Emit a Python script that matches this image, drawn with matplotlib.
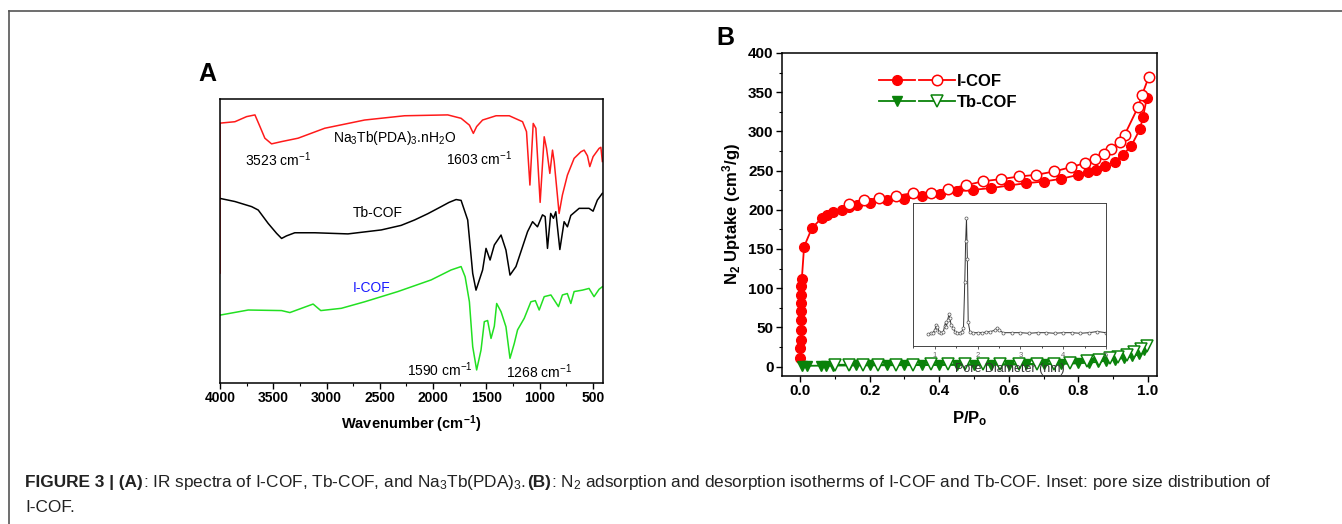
import matplotlib
matplotlib.use('Agg')
import matplotlib.pyplot as plt
from matplotlib.lines import Line2D
from matplotlib.legend_handler import HandlerTuple
from matplotlib.ticker import MultipleLocator

plt.rcParams['font.family'] = ['Liberation Sans', 'DejaVu Sans']
plt.rcParams['mathtext.default'] = 'regular'

# ---- panel A: IR spectra (wavenumber, relative transmittance) ----
red_wn = [4000, 4000, 3860, 3750, 3672, 3625, 3579, 3516, 3422, 3267, 3017, 2642, 2268, 1862, 1737, 1659,
          1622, 1591, 1535, 1409, 1285, 1160, 1123, 1091, 1060, 1035, 995, 957, 935, 904, 879, 863, 817,
          786, 739, 676, 613, 582, 551, 529, 498, 442, 425, 411]
red_t = [38.7, 91.5, 92.0, 93.8, 94.4, 90.3, 86.2, 84.2, 85.0, 86.2, 89.7, 92.6, 94.1, 94.4, 93.2, 90.8,
         87.9, 90.3, 92.6, 94.1, 94.1, 92.0, 88.5, 69.7, 91.4, 89.7, 63.6, 86.7, 82.6, 73.8, 82.0, 77.9, 59.7,
         66.2, 73.2, 79.1, 81.4, 82.0, 80.0, 76.2, 79.7, 82.6, 83.0, 78.0]

black_wn = [4000, 3860, 3703, 3641, 3548, 3469, 3422, 3376, 3298, 3110, 2799, 2486, 2300, 2174, 2050, 1924,
            1850, 1784, 1737, 1675, 1628, 1597, 1535, 1503, 1465, 1425, 1362, 1316, 1278, 1222, 1160, 1113,
            1066, 1020, 973, 948, 926, 896, 870, 848, 810, 770, 739, 707, 629, 536, 498, 458, 411]
black_t = [65.0, 63.9, 62.1, 60.9, 56.2, 52.7, 50.9, 51.8, 52.9, 52.9, 52.5, 53.9, 55.5, 57.4, 59.6, 62.1,
           63.6, 64.6, 64.3, 57.4, 38.6, 32.7, 39.8, 47.4, 43.3, 48.6, 52.1, 46.8, 38.0, 41.0, 48.0, 53.3,
           56.8, 55.0, 59.2, 58.6, 47.4, 59.7, 58.0, 60.3, 47.0, 56.8, 55.0, 59.0, 61.5, 61.5, 60.5, 64.4, 66.8]

green_wn = [4000, 3735, 3422, 3344, 3235, 3126, 3054, 2861, 2642, 2330, 2018, 1831, 1737, 1699, 1659, 1628,
            1591, 1550, 1519, 1488, 1456, 1425, 1403, 1362, 1316, 1278, 1238, 1207, 1144, 1082, 1040, 1004,
            957, 894, 823, 786, 740, 707, 676, 598, 536, 489, 442, 411]
green_t = [23.9, 25.7, 25.5, 24.8, 26.3, 27.8, 25.5, 26.3, 28.6, 32.2, 36.3, 39.8, 41.0, 37.4, 28.6, 12.8,
           4.6, 11.6, 21.6, 22.0, 15.7, 20.0, 28.0, 25.1, 19.8, 8.7, 13.9, 18.7, 22.8, 28.6, 29.0, 25.7,
           30.4, 31.0, 26.9, 31.0, 31.5, 28.0, 32.2, 32.7, 33.3, 30.4, 33.0, 33.9]

# ---- panel B: N2 isotherms ----
icof_ads_p = [0.001, 0.001, 0.002, 0.002, 0.002, 0.003, 0.003, 0.004, 0.004, 0.005, 0.0115, 0.034, 0.062,
              0.077, 0.096, 0.12, 0.14, 0.163, 0.2, 0.249, 0.299, 0.35, 0.402, 0.45, 0.498, 0.55, 0.6, 0.65,
              0.7, 0.75, 0.8, 0.827, 0.85, 0.877, 0.904, 0.928, 0.952, 0.977, 0.986, 0.997]
icof_ads_v = [11.5, 24, 34.4, 47, 60, 70.5, 81.5, 91.7, 102.3, 111.7, 153, 176.6, 189.4, 193.6, 196.6, 199.5,
              203, 206.4, 208.5, 211.9, 214, 217, 220, 223.4, 225.5, 227.7, 231, 234, 236, 239.5, 244.6,
              247.6, 251, 256, 261.6, 270, 281.6, 302.8, 319, 343]
icof_des_p = [1.002, 0.983, 0.971, 0.933, 0.919, 0.893, 0.873, 0.847, 0.818, 0.779, 0.73, 0.679, 0.63,
              0.577, 0.527, 0.478, 0.425, 0.375, 0.324, 0.276, 0.226, 0.183, 0.141]
icof_des_v = [369, 346.6, 330.5, 295.6, 287.1, 277.8, 271, 264.6, 259.5, 254.4, 248.9, 244.6, 242.5, 239.1,
              236.5, 231.4, 226.3, 222, 221.2, 217.8, 214.9, 211.9, 207.6]

tb_ads_p = [0.005, 0.02, 0.06, 0.075, 0.095, 0.14, 0.16, 0.2, 0.25, 0.3, 0.35, 0.4, 0.45, 0.5, 0.55, 0.6,
            0.65, 0.7, 0.75, 0.8, 0.83, 0.855, 0.88, 0.905, 0.93, 0.955, 0.975, 0.99]
tb_ads_v = [1, 1, 1.2, 1.2, 1.3, 1.4, 1.5, 1.6, 1.7, 1.8, 1.9, 2.0, 2.1, 2.2, 2.3, 2.5, 2.7, 3.0, 3.4, 4.2,
            5, 6, 7.5, 9, 11, 13, 16, 21]
tb_des_p = [0.998, 0.98, 0.96, 0.94, 0.915, 0.89, 0.86, 0.825, 0.775, 0.73, 0.68, 0.63, 0.575, 0.525, 0.475,
            0.425, 0.375, 0.325, 0.275, 0.225, 0.18, 0.14, 0.1]
tb_des_v = [26, 22, 18, 15, 12.5, 10.5, 8.5, 6.5, 4.5, 3.8, 3.5, 3.3, 3.1, 3.0, 2.9, 2.8, 2.7, 2.6, 2.6,
            2.5, 2.5, 2.4, 2.3]

# inset: pore size distribution of I-COF (arbitrary units)
pore_d = [0.85, 0.9, 0.95, 1.0, 1.03, 1.06, 1.1, 1.15, 1.2, 1.23, 1.25, 1.27, 1.3, 1.33, 1.35, 1.38, 1.42,
          1.47, 1.52, 1.58, 1.63, 1.67, 1.70, 1.72, 1.74, 1.76, 1.78, 1.82, 1.9, 2.0, 2.1, 2.2, 2.3, 2.4,
          2.45, 2.5, 2.6, 2.8, 3.0, 3.2, 3.4, 3.6, 3.8, 4.0, 4.2, 4.4, 4.6, 4.8, 5.0]
pore_f = [0.0, 0.005, 0.01, 0.03, 0.08, 0.06, 0.02, 0.01, 0.02, 0.07, 0.1, 0.06, 0.12, 0.17, 0.14, 0.08,
          0.05, 0.02, 0.01, 0.01, 0.02, 0.05, 0.45, 0.8, 1.0, 0.65, 0.1, 0.02, 0.01, 0.01, 0.01, 0.015, 0.02,
          0.03, 0.05, 0.03, 0.01, 0.01, 0.01, 0.005, 0.01, 0.01, 0.005, 0.01, 0.01, 0.005, 0.01, 0.02, 0.01]

W, H = 1342, 524
fig = plt.figure(figsize=(W / 100, H / 100), dpi=100)


def px_axes(l, t, r, b):
    return fig.add_axes([l / W, 1 - b / H, (r - l) / W, (b - t) / H])


# page frame (top and left rules)
fig.add_artist(Line2D([9 / W, 1], [1 - 11 / H, 1 - 11 / H], color='#555555', lw=1.2))
fig.add_artist(Line2D([9 / W, 9 / W], [0, 1 - 11 / H], color='#555555', lw=1.2))

# ---------------- panel A ----------------
axA = px_axes(220, 99, 603, 383)
axA.plot(red_wn, red_t, color='#ff1a1a', lw=1.1)
axA.plot(black_wn, black_t, color='black', lw=1.1)
axA.plot(green_wn, green_t, color='#22e022', lw=1.1)
axA.set_xlim(4000, 405)
axA.set_ylim(0, 100)
axA.set_yticks([])
axA.xaxis.set_major_locator(MultipleLocator(500))
axA.xaxis.set_minor_locator(MultipleLocator(250))
axA.tick_params(axis='x', direction='out', length=4, width=1, labelsize=10, pad=2)
axA.tick_params(axis='x', which='minor', direction='out', length=2.5, width=0.8)
for lab in axA.get_xticklabels():
    lab.set_fontweight('bold')
for s in axA.spines.values():
    s.set_linewidth(1.1)
axA.set_xlabel('Wavenumber (cm$^{-1}$)', fontsize=10.5, fontweight='bold', labelpad=6)

axA.text(2361, 86.3, 'Na$_3$Tb(PDA)$_3$.nH$_2$O', fontsize=10, ha='center', va='center')
axA.text(3457, 78.5, '3523 cm$^{-1}$', fontsize=10, ha='center', va='center')
axA.text(1566, 78.9, '1603 cm$^{-1}$', fontsize=10, ha='center', va='center')
axA.text(2521, 59.9, 'Tb-COF', fontsize=10, ha='center', va='center')
axA.text(2577, 33.5, 'I-COF', fontsize=10, color='#1a1aff', ha='center', va='center')
axA.text(1940, 4.6, '1590 cm$^{-1}$', fontsize=10, ha='center', va='center')
axA.text(1004, 3.9, '1268 cm$^{-1}$', fontsize=10, ha='center', va='center')
fig.text(207 / W, 1 - 74 / H, 'A', fontsize=18, fontweight='bold', ha='center', va='center')

# ---------------- panel B ----------------
axB = px_axes(782, 53, 1157, 376)
red = '#ff0000'
dgreen = '#0a820a'
la, = axB.plot(icof_ads_p, icof_ads_v, '-o', color=red, mfc=red, mec=red, ms=7, lw=1.3)
ld, = axB.plot(icof_des_p, icof_des_v, '-o', color=red, mfc='white', mec=red, ms=7.5, mew=1.1, lw=1.3)
ta, = axB.plot(tb_ads_p, tb_ads_v, '-v', color=dgreen, mfc=dgreen, mec=dgreen, ms=7.5, lw=1.3)
td, = axB.plot(tb_des_p, tb_des_v, '-v', color=dgreen, mfc='white', mec=dgreen, ms=8.5, mew=1.1, lw=1.3)
axB.set_xlim(-0.052, 1.026)
axB.set_ylim(-12, 400)
axB.xaxis.set_major_locator(MultipleLocator(0.2))
axB.xaxis.set_minor_locator(MultipleLocator(0.1))
axB.yaxis.set_major_locator(MultipleLocator(50))
axB.yaxis.set_minor_locator(MultipleLocator(25))
axB.tick_params(which='major', direction='out', length=4, width=1, labelsize=11, pad=2)
axB.tick_params(which='minor', direction='out', length=2.5, width=0.8)
axB.xaxis.set_major_formatter(plt.FuncFormatter(lambda v, p: f'{v:.1f}'))
for lab in axB.get_xticklabels() + axB.get_yticklabels():
    lab.set_fontweight('bold')
for s in axB.spines.values():
    s.set_linewidth(1.1)
axB.set_xlabel('P/P$_o$', fontsize=12, fontweight='bold', labelpad=8)
axB.set_ylabel('N$_2$ Uptake (cm$^3$/g)', fontsize=12, fontweight='bold', labelpad=4)
axB.legend([(la, ld), (ta, td)], ['I-COF', 'Tb-COF'],
           handler_map={tuple: HandlerTuple(ndivide=2, pad=0.25)},
           loc='upper left', bbox_to_anchor=(0.24, 0.955), frameon=False,
           handlelength=4.6, handletextpad=0.1, labelspacing=0.35, borderaxespad=0,
           prop={'weight': 'bold', 'size': 12})
fig.text(725 / W, 1 - 38 / H, 'B', fontsize=18, fontweight='bold', ha='center', va='center')

# inset
axI = px_axes(913, 203, 1106, 346)
axI.plot(pore_d, pore_f, '-o', color='#333333', mfc='white', mec='#555555', ms=2.2, mew=0.5, lw=0.7)
axI.set_xlim(0.49, 5)
axI.set_ylim(-0.105, 1.13)
axI.set_yticks([])
axI.xaxis.set_major_locator(MultipleLocator(1))
axI.xaxis.set_minor_locator(MultipleLocator(0.5))
axI.tick_params(axis='x', direction='out', length=2.5, width=0.6, labelsize=5.5, pad=1.5,
                labelcolor='#666666', color='#444444')
axI.tick_params(axis='x', which='minor', direction='out', length=1.5, width=0.5)
for s in axI.spines.values():
    s.set_linewidth(0.7)
    s.set_color('#444444')
axI.set_xlabel('Pore Diameter (nm)', fontsize=9, color='#333333', labelpad=3)

# ---------------- caption ----------------
renderer = fig.canvas.get_renderer()
cap_font = ['Liberation Sans Narrow', 'Liberation Sans', 'DejaVu Sans']
pieces = [('FIGURE 3 | (A)', 'bold'),
          (': IR spectra of I-COF, Tb-COF, and Na$_3$Tb(PDA)$_3$. ', 'normal'),
          ('(B)', 'bold'),
          (': N$_2$ adsorption and desorption isotherms of I-COF and Tb-COF. Inset: pore size distribution of',
           'normal')]
x0 = 25
for txt, wt in pieces:
    t = fig.text(x0 / W, 1 - 482 / H, txt, fontsize=12.4, fontweight=wt, family=cap_font,
                 ha='left', va='center', color='#222222')
    bb = t.get_window_extent(renderer)
    x0 += bb.width
fig.text(25 / W, 1 - 508 / H, 'I-COF.', fontsize=12.4, family=cap_font, ha='left', va='center',
         color='#222222')

fig.savefig('out.png', dpi=100)
